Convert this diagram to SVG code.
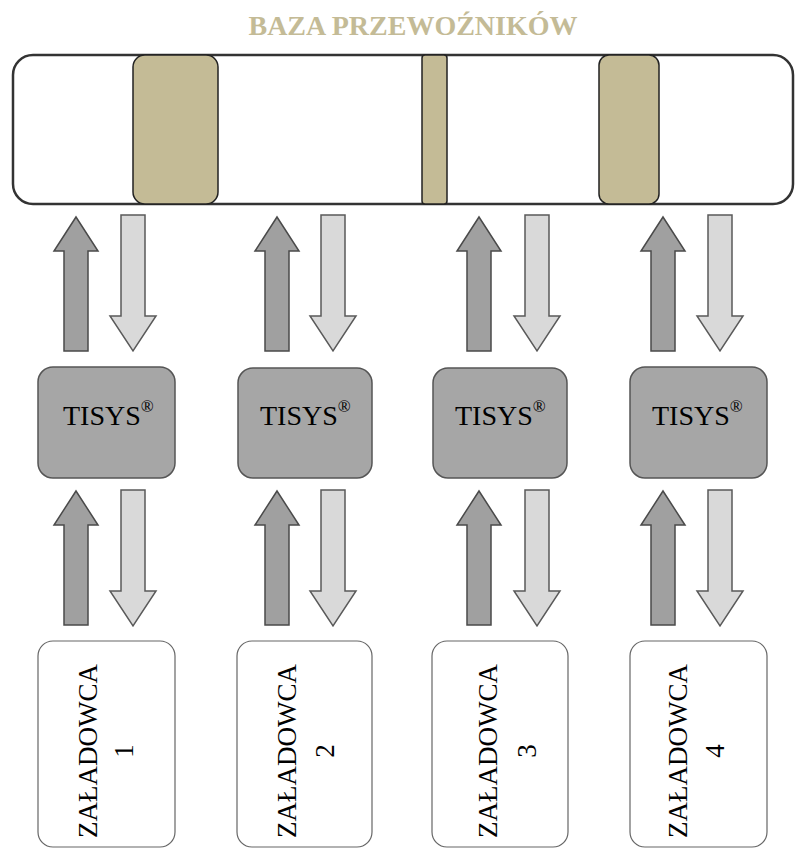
<svg xmlns="http://www.w3.org/2000/svg" xmlns:xlink="http://www.w3.org/1999/xlink" width="795" height="850" viewBox="0 0 795 850">
  <style>
    .title { font-family: "Liberation Serif", "Times New Roman", serif; font-weight: bold; font-size: 28px; fill: #c4bb96; }
    .bar { fill: #ffffff; stroke: #333333; stroke-width: 2.5; }
    .tan { fill: #c4bb96; stroke: #222222; stroke-width: 1.5; }
    .tisys { fill: #a6a6a6; stroke: #555555; stroke-width: 1.5; }
    .ship { fill: #ffffff; stroke: #666666; stroke-width: 1.2; }
    .lbl { font-family: "Liberation Serif", "Times New Roman", serif; font-size: 28px; fill: #000000; }
    .vlbl { font-family: "Liberation Serif", "Times New Roman", serif; font-size: 27px; fill: #000000; text-anchor: middle; }
    .up { fill: #a0a0a0; stroke: #4a4a4a; stroke-width: 1.5; }
    .down { fill: #d9d9d9; stroke: #5a5a5a; stroke-width: 1.5; }
  </style>
  <defs>
    <path id="upArrow" d="M0,0 L22,34 L12,34 L12,134 L-12,134 L-12,34 L-22,34 Z"/>
    <path id="downArrow" d="M-12,0 L12,0 L12,101 L23,101 L0,136 L-23,101 L-12,101 Z"/>
  </defs>

  <text class="title" x="413" y="35" text-anchor="middle">BAZA PRZEWOŹNIKÓW</text>

  <g id="baza">
    <rect class="bar" x="13" y="55" width="780" height="149" rx="20"/>
    <rect class="tan" x="133" y="55" width="85" height="149" rx="12"/>
    <rect class="tan" x="422" y="55" width="25" height="149" rx="3"/>
    <rect class="tan" x="599" y="55" width="60" height="149" rx="10"/>
  </g>

  <g id="connectors">
    <use href="#upArrow" class="up" x="76" y="217"/>
    <use href="#downArrow" class="down" x="133" y="215"/>
    <use href="#upArrow" class="up" x="277" y="217"/>
    <use href="#downArrow" class="down" x="333" y="215"/>
    <use href="#upArrow" class="up" x="479" y="217"/>
    <use href="#downArrow" class="down" x="537" y="215"/>
    <use href="#upArrow" class="up" x="663" y="217"/>
    <use href="#downArrow" class="down" x="720" y="215"/>

    <use href="#upArrow" class="up" x="76" y="491"/>
    <use href="#downArrow" class="down" x="133" y="490"/>
    <use href="#upArrow" class="up" x="277" y="491"/>
    <use href="#downArrow" class="down" x="333" y="490"/>
    <use href="#upArrow" class="up" x="479" y="491"/>
    <use href="#downArrow" class="down" x="537" y="490"/>
    <use href="#upArrow" class="up" x="663" y="491"/>
    <use href="#downArrow" class="down" x="720" y="490"/>
  </g>

  <g id="tisys1">
    <rect class="tisys" x="38" y="367" width="137" height="111" rx="15"/>
    <text class="lbl" x="63" y="425">TISYS<tspan font-size="17" dy="-13">®</tspan></text>
  </g>
  <g id="tisys2">
    <rect class="tisys" x="238" y="368" width="134" height="110" rx="15"/>
    <text class="lbl" x="260" y="425">TISYS<tspan font-size="17" dy="-13">®</tspan></text>
  </g>
  <g id="tisys3">
    <rect class="tisys" x="433" y="368" width="134" height="110" rx="15"/>
    <text class="lbl" x="455" y="425">TISYS<tspan font-size="17" dy="-13">®</tspan></text>
  </g>
  <g id="tisys4">
    <rect class="tisys" x="630" y="367" width="137" height="111" rx="15"/>
    <text class="lbl" x="652" y="425">TISYS<tspan font-size="17" dy="-13">®</tspan></text>
  </g>

  <g id="zaladowca1">
    <rect class="ship" x="38" y="641" width="137" height="206" rx="15"/>
    <text class="vlbl" transform="translate(97,751) rotate(-90)">ZAŁADOWCA</text>
    <text class="vlbl" transform="translate(133,751) rotate(-90)">1</text>
  </g>
  <g id="zaladowca2">
    <rect class="ship" x="237" y="641" width="135" height="206" rx="15"/>
    <text class="vlbl" transform="translate(296,751) rotate(-90)">ZAŁADOWCA</text>
    <text class="vlbl" transform="translate(334,751) rotate(-90)">2</text>
  </g>
  <g id="zaladowca3">
    <rect class="ship" x="432" y="641" width="136" height="206" rx="15"/>
    <text class="vlbl" transform="translate(497,751) rotate(-90)">ZAŁADOWCA</text>
    <text class="vlbl" transform="translate(536,751) rotate(-90)">3</text>
  </g>
  <g id="zaladowca4">
    <rect class="ship" x="630" y="641" width="137" height="206" rx="15"/>
    <text class="vlbl" transform="translate(687,751) rotate(-90)">ZAŁADOWCA</text>
    <text class="vlbl" transform="translate(724,751) rotate(-90)">4</text>
  </g>
</svg>
